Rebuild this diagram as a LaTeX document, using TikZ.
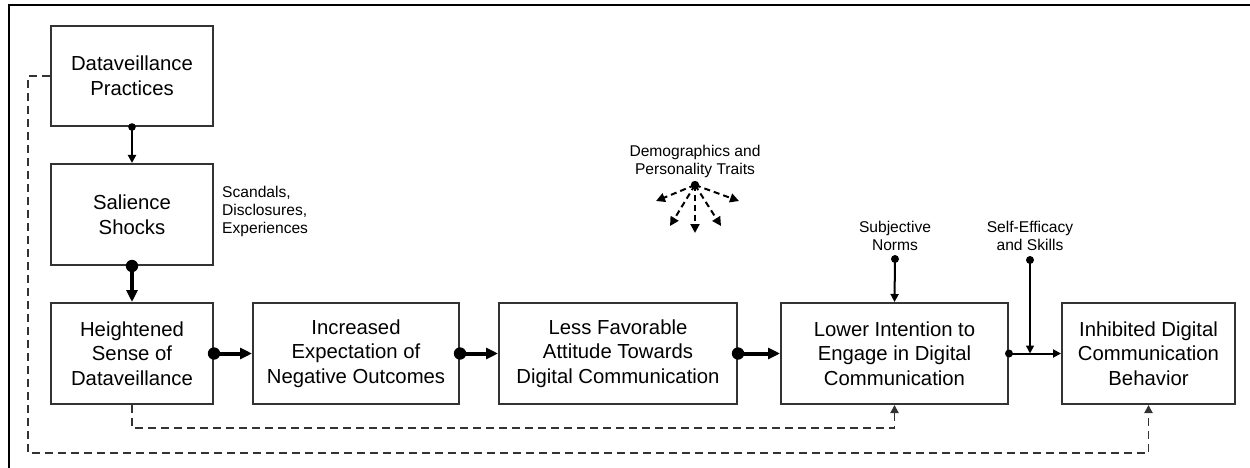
\documentclass[tikz,border=0pt]{standalone}
\usepackage{fontspec}
\setmainfont{Liberation Sans}
\usetikzlibrary{arrows.meta,calc}
\definecolor{edge}{HTML}{333333}
\tikzset{
  box/.style={draw=edge, line width=2pt, inner sep=0pt, align=center,
    font=\fontsize{20.3}{24.7}\selectfont},
  lab/.style={inner sep=0pt, align=center, font=\fontsize{15.6}{18}\selectfont},
  thinarrow/.style={line width=2pt, -{Triangle[length=8pt,width=8pt]}},
  thickarrow/.style={line width=4pt, -{Triangle[length=12pt,width=11pt]}},
  dashline/.style={draw=edge, line width=1.9pt, dash pattern=on 8pt off 5pt},
  dasharrow/.style={dashline, -{Triangle[length=8pt,width=8pt]}},
  fandash/.style={line width=2pt, dash pattern=on 6pt off 4pt, -{Triangle[length=9pt,width=9pt]}},
}
\begin{document}
\begin{tikzpicture}[x=1pt,y=-1pt]
\useasboundingbox (0,0) rectangle (1250,468);
\fill[white] (0,0) rectangle (1250,468);
% frame
\draw[line width=2.6pt] (9,470) -- (9,5) -- (1252,5);
% boxes
\node[box, minimum width=162pt, minimum height=100pt] (dp) at (132,76) {Dataveillance\\Practices};
\node[box, minimum width=162pt, minimum height=101pt] (ss) at (132,214.5) {Salience\\Shocks};
\node[box, minimum width=162pt, minimum height=101pt] (hs) at (132,353.5) {Heightened\\Sense of\\Dataveillance};
\node[box, minimum width=206pt, minimum height=101pt] (ie) at (356,353.5) {Increased\\Expectation of\\Negative Outcomes};
\node[box, minimum width=238pt, minimum height=101pt] (lf) at (618,353.5) {Less Favorable\\Attitude Towards\\Digital Communication};
\node[box, minimum width=227pt, minimum height=101pt] (li) at (894.5,353.5) {Lower Intention to\\Engage in Digital\\Communication};
\node[box, minimum width=173pt, minimum height=101pt] (ib) at (1148.5,353.5) {Inhibited Digital\\Communication\\Behavior};
% labels
\node[lab, anchor=west, align=left] (sc) at (222,211) {Scandals,\\Disclosures,\\Experiences};
\node[lab] (dm) at (695,161) {Demographics and\\Personality Traits};
\node[lab] (sn) at (895,236) {Subjective\\Norms};
\node[lab] (se) at (1030,236) {Self-Efficacy\\and Skills};
% coordinates
\coordinate (dmd) at (695,185);
\coordinate (snd) at (895,259);
\coordinate (sed) at (1030,260);
\coordinate (sej) at (1030,353.5);
\coordinate (f1) at (656,201);
\coordinate (f2) at (670,226);
\coordinate (f3) at (695,233);
\coordinate (f4) at (721,226);
\coordinate (f5) at (739,201);
% main arrows
\draw[thinarrow] (dp.south) -- (ss.north);
\fill (dp.south) circle (3.8);
\draw[thickarrow] (ss.south) -- (hs.north);
\fill (ss.south) circle (6.2);
\draw[thickarrow] (hs.east) -- (ie.west);
\fill (hs.east) circle (6.2);
\draw[thickarrow] (ie.east) -- (lf.west);
\fill (ie.east) circle (6.2);
\draw[thickarrow] (lf.east) -- (li.west);
\fill (lf.east) circle (6.2);
\draw[thinarrow] (li.east) -- (ib.west);
\fill (li.east) circle (4);
% moderators
\draw[thinarrow] (snd) -- (li.north);
\fill (snd) circle (4);
\draw[thinarrow, line width=1.6pt] (sed) -- (sej);
\fill (sed) circle (4);
\foreach \t in {f1,f2,f3,f4,f5} \draw[fandash] (dmd) -- (\t);
\fill (dmd) circle (4.2);
% feedback
\draw[dasharrow] (hs.south) -- ++(0,23) -| (li.south);
\draw[dasharrow] (dp.west) -| (28,453) -| (ib.south);
\end{tikzpicture}
\end{document}
